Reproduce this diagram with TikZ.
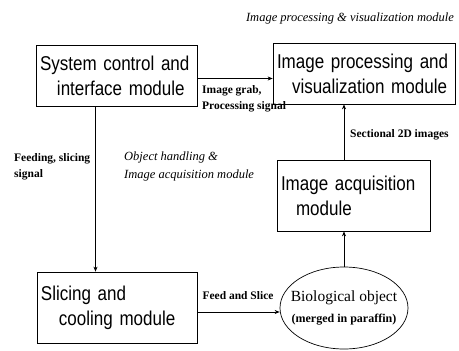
\documentclass[tikz,border=0pt]{standalone}
\usepackage{fontspec}
\setmainfont{Liberation Serif}
\newfontfamily\boxfont[FakeStretch=0.85]{Liberation Sans}
\usepackage{tikz}
\usetikzlibrary{positioning, arrows.meta, shapes.geometric}

\begin{document}
\begin{tikzpicture}[
    x=1pt, y=-1pt,
    box/.style={
        rectangle,
        draw,
        line width=0.7pt,
        inner sep=0pt,
        align=left,
        font=\boxfont\fontsize{20}{25}\selectfont
    },
    blob/.style={
        ellipse,
        draw,
        line width=0.7pt,
        inner xsep=-10pt,
        inner ysep=0pt,
        minimum width=128pt,
        minimum height=82pt,
        align=center,
        font=\fontsize{15.5}{21}\selectfont
    },
    lbl/.style={
        inner sep=0pt,
        align=left,
        font=\bfseries\fontsize{11.5}{16}\selectfont
    },
    note/.style={
        inner sep=0pt,
        align=left,
        font=\itshape\fontsize{12.5}{18}\selectfont
    },
    arrow/.style={-{Stealth[length=5pt,width=4pt]}, line width=0.7pt}
]

\useasboundingbox (0,0) rectangle (459,351);

% modules
\node[box, minimum width=161pt, minimum height=61pt, text width=153pt] (sys) at (116.5,75.5)
    {System control and\\\hspace*{17pt}interface module};
\node[box, minimum width=182pt, minimum height=61pt, text width=174pt] (proc) at (364,73.5)
    {Image processing and\\\hspace*{15pt}visualization module};
\node[box, minimum width=153pt, minimum height=71pt, text width=145pt] (acq) at (353.5,195.5)
    {Image acquisition\\\hspace*{15pt}module};
\node[box, minimum width=160pt, minimum height=71pt, text width=152pt] (slice) at (117,307.5)
    {Slicing and\\\hspace*{18pt}cooling module};
\node[blob] (obj) at (344,308)
    {Biological object\\{\bfseries\fontsize{12}{21}\selectfont (merged in paraffin)}};

% labels
\node[note, anchor=center] (title) at (350,18) {Image processing \& visualization module};
\node[note, anchor=north west] (handling) at (124,152) {Object handling \&\\Image acquisition module};
\node[lbl, anchor=north west] (grab) at (202,85) {Image grab,\\Processing signal};
\node[lbl, anchor=north west] (feeding) at (14,153) {Feeding, slicing\\signal};
\node[lbl, anchor=west] (sect) at (350,135) {Sectional 2D images};
\node[lbl, anchor=center] (feed) at (238,296) {Feed and Slice};

% connections
\draw[arrow] ([yshift=-3pt]sys.east) -- ([yshift=-3pt]sys.east -| proc.west);
\draw[arrow] ([xshift=-21pt]sys.south) -- ([xshift=-21pt]sys.south |- slice.north);
\draw[arrow] (slice.east |- 0,312) -- (obj.west |- 0,312);
\draw[arrow] (obj.north) -- (obj.north |- acq.south);
\draw[arrow] (obj.north |- acq.north) -- (obj.north |- proc.south);

\end{tikzpicture}
\end{document}
